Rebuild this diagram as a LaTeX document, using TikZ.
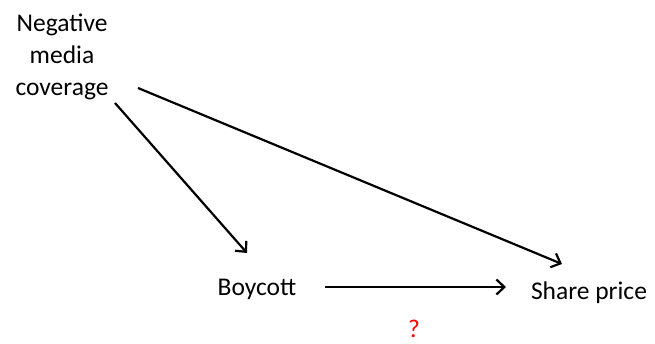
\documentclass[tikz,border=0pt]{standalone}
\usepackage{fontspec}
\setmainfont{Carlito}
\usetikzlibrary{arrows.meta}
\begin{document}
\begin{tikzpicture}[x=1pt,y=-1pt,
  lbl/.style={inner sep=0pt,font=\fontsize{25.5}{32}\selectfont},
  arr/.style={line width=2.2pt,-{Straight Barb[length=8pt,width=15pt,line width=2.2pt]}}]
\useasboundingbox (0,0) rectangle (655,344);
\node[lbl,align=center] (neg) at (62,57) {Negative\\media\\coverage};
\node[lbl,anchor=base] (boy) at (257,295) {Boycott};
\node[lbl,anchor=base] (share) at (589,299) {Share price};
\node[lbl,anchor=base,text=red] (q) at (414,337) {?};
\draw[arr] ([shift={(53,46)}]neg.center) -- ([shift={(-10,-42)}]boy.base);
\draw[arr] ([shift={(76,31)}]neg.center) -- ([shift={(-27,-35)}]share.base);
\draw[arr] ([shift={(68,-8)}]boy.base) -- ([shift={(-83,-12)}]share.base);
\end{tikzpicture}
\end{document}
